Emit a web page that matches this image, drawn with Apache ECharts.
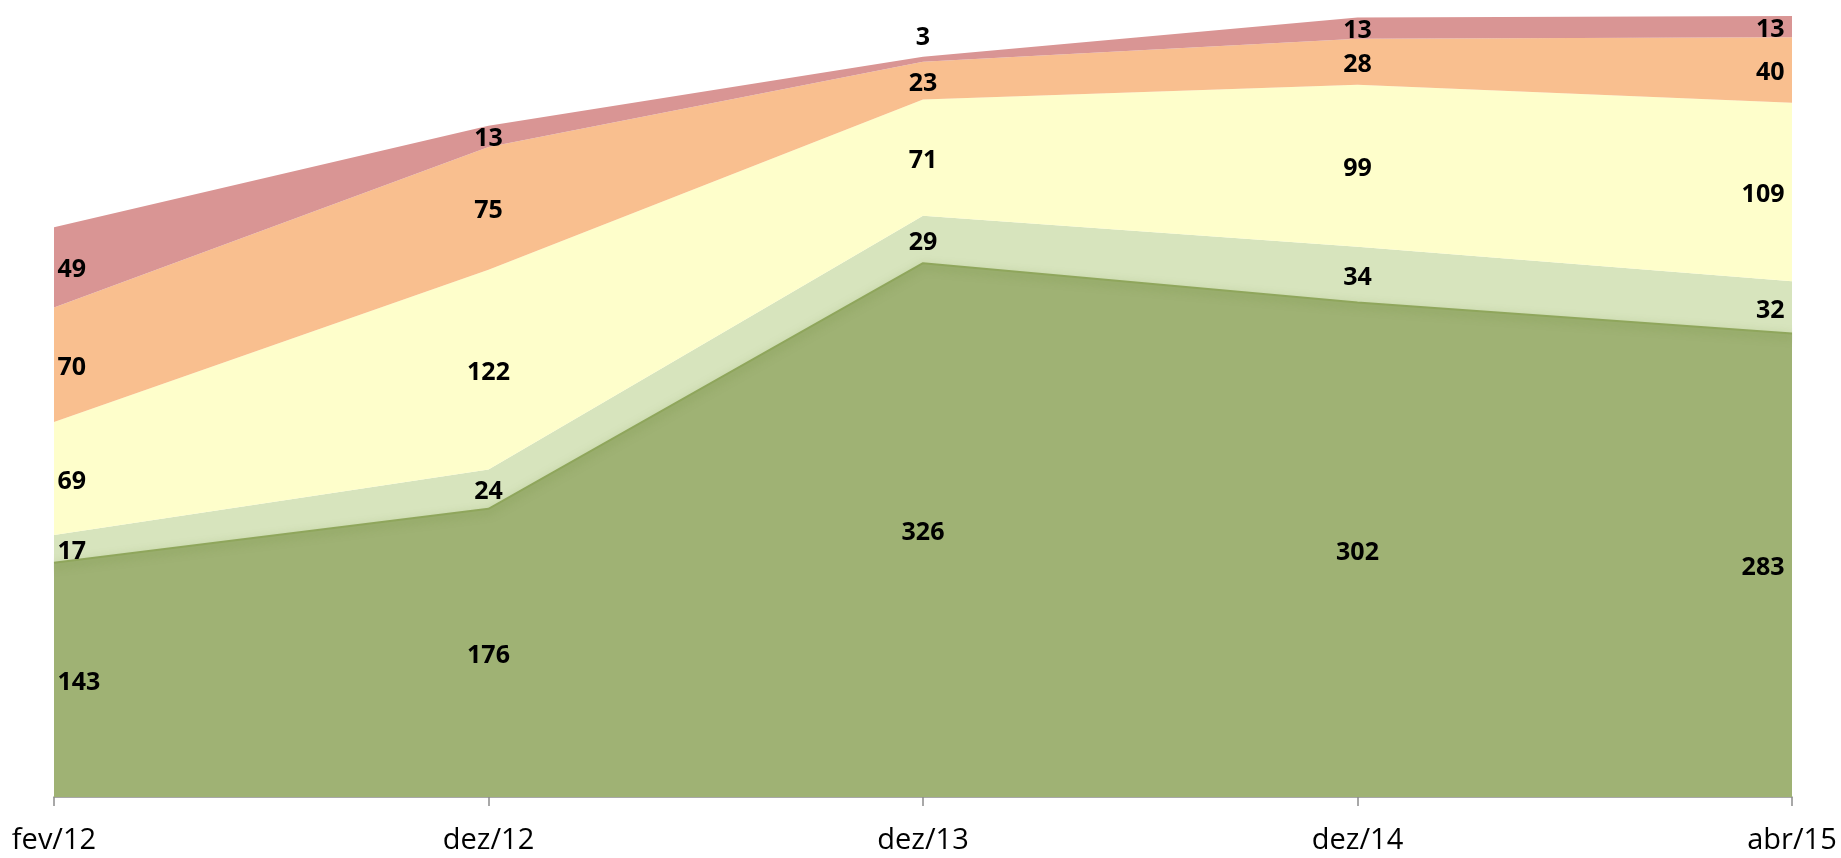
<!DOCTYPE html>
<html>
<head>
<meta charset="utf-8">
<script src="https://cdn.jsdelivr.net/npm/echarts@6/dist/echarts.min.js"></script>
<style>
  html, body { margin: 0; padding: 0; background: #fff; }
  #chart { width: 1841px; height: 858px; }
</style>
</head>
<body>
<div id="chart"></div>
<script>
// categorias e valores (de baixo para cima)
const categories = ['fev/12', 'dez/12', 'dez/13', 'dez/14', 'abr/15'];
const serieA = [143, 176, 326, 302, 283];
const serieB = [17, 24, 29, 34, 32];
const serieC = [69, 122, 71, 99, 109];
const serieD = [70, 75, 23, 28, 40];
const serieE = [49, 13, 3, 13, 13];

const colors = ['#9fb274', '#d7e4bd', '#fefecb', '#f9bf8f', '#d99594'];
const all = [serieA, serieB, serieC, serieD, serieE];

const chart = echarts.init(document.getElementById('chart'));

// áreas empilhadas
const areas = all.map((d, i) => ({
    name: 's' + i,
    type: 'line',
    stack: 'area',
    symbol: 'none',
    z: i === 0 ? 3 : 2,
    lineStyle: i === 0
        ? { color: '#8fa65c', width: 2, shadowBlur: 8, shadowColor: 'rgba(110,140,60,0.6)', shadowOffsetY: 3 }
        : { width: 0 },
    areaStyle: { color: colors[i], opacity: 1 },
    data: d
}));

// barras invisíveis só para pôr os rótulos no meio de cada faixa
const labels = all.map((d, i) => ({
    name: 'l' + i,
    type: 'bar',
    stack: 'lbl',
    barWidth: 1,
    z: 5,
    itemStyle: { color: 'rgba(0,0,0,0)' },
    label: {
        show: true,
        position: 'inside',
        color: '#000',
        fontFamily: 'Open Sans',
        fontWeight: 'bold',
        fontSize: 25,
        offset: [0, 3]
    },
    data: d.map((v, j) => {
        const item = { value: v };
        if (j === 0) item.label = { position: 'insideLeft', distance: 4 };
        if (j === d.length - 1) item.label = { position: 'insideRight', distance: 8 };
        if (i === 4 && j === 2) item.label = { offset: [0, -21] };
        return item;
    })
}));

chart.setOption({
    animation: false,
    grid: { left: 54, right: 49, top: 11, bottom: 61 },
    xAxis: {
        type: 'category',
        boundaryGap: false,
        data: categories,
        axisLine: { lineStyle: { color: '#8c8c8c', width: 1.5 } },
        axisTick: { show: true, length: 9, lineStyle: { color: '#8c8c8c', width: 1.5 } },
        axisLabel: {
            color: '#000',
            fontFamily: 'Open Sans',
            fontSize: 29,
            margin: 29
        },
        splitLine: { show: false }
    },
    yAxis: {
        type: 'value',
        min: 0,
        max: 480,
        show: false
    },
    series: areas.concat(labels)
});
</script>
</body>
</html>
